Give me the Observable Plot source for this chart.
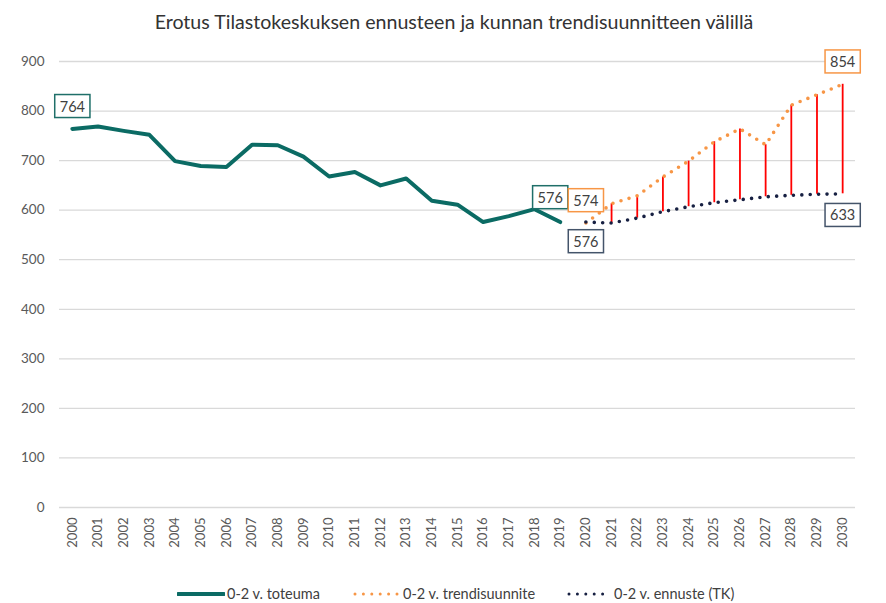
<!DOCTYPE html>
<html>
<head>
<meta charset="utf-8">
<script src="https://cdn.jsdelivr.net/npm/d3@7"></script>
<script src="https://cdn.jsdelivr.net/npm/@observablehq/plot@0.6"></script>
<style>
  body { margin: 0; background: #fff; font-family: Lato, "Open Sans", sans-serif; }
  #title { width: 864px; height: 37px; padding-top: 3px; padding-left: 22px; line-height: 37px; text-align: center;
           font-size: 19.6px; color: #333; }
  #chart svg { display: block; }
  #legend { position: relative; width: 886px; height: 40px; font-size: 14.5px; color: #404040; }
  .item { position: absolute; top: 21px; height: 20px; line-height: 20px; white-space: nowrap; }
  .item svg { position: absolute; top: 6px; }
</style>
</head>
<body>
<div id="title">Erotus Tilastokeskuksen ennusteen ja kunnan trendisuunnitteen välillä</div>
<div id="chart"></div>
<div id="legend"></div>
<script>
// ---- data ----
const years = [2000,2001,2002,2003,2004,2005,2006,2007,2008,2009,2010,2011,2012,2013,2014,2015,
               2016,2017,2018,2019,2020,2021,2022,2023,2024,2025,2026,2027,2028,2029,2030];
const toteumaYears = [2000,2001,2002,2003,2004,2005,2006,2007,2008,2009,2010,2011,2012,2013,2014,2015,2016,2017,2018,2019];
const toteuma = [764,769,760,752,699,689,687,732,731,708,668,677,650,664,619,611,576,588,602,576];
const forecastYears = [2020,2021,2022,2023,2024,2025,2026,2027,2028,2029,2030];
const trendi = [574,613,629,667,699,738,764,732,812,833,854];
const ennuste = [576,574,584,597,607,615,621,627,630,632,633];
const yTicks = [0,100,200,300,400,500,600,700,800,900];
const seriesNames = ["0-2 v. toteuma", "0-2 v. trendisuunnite", "0-2 v. ennuste (TK)"];

const teal = "#0b6b64", orange = "#f79646", navy = "#172042", red = "#ff0000";

const totRows = toteumaYears.map((y, i) => ({year: y, value: toteuma[i]}));
const trendRows = forecastYears.map((y, i) => ({year: y, value: trendi[i]}));
const ennRows = forecastYears.map((y, i) => ({year: y, value: ennuste[i]}));
const gapRows = forecastYears.map((y, i) => ({year: y, lo: ennuste[i], hi: trendi[i]})).filter(d => d.year > forecastYears[0]);

const first = a => [a[0]];
const last = a => [a[a.length - 1]];
const lbl = {fontSize: 14.5, fill: "#404040", fontFamily: "Lato"};

const chart = Plot.plot({
  width: 886,
  height: 523,
  marginTop: 21,
  marginBottom: 56,
  marginLeft: 59,
  marginRight: 31,
  style: {fontFamily: "Lato", fontSize: "13px", color: "#595959", background: "#fff"},
  x: {type: "point", domain: years, padding: 0.5, round: false, label: null},
  y: {domain: [0, 900], label: null},
  marks: [
    Plot.gridY(yTicks, {stroke: "#d9d9d9", strokeOpacity: 1, strokeWidth: 1.3}),
    Plot.axisY(yTicks, {tickSize: 0, tickPadding: 15, fontSize: 13.5, label: null}),
    Plot.axisX(years, {tickSize: 0, tickPadding: 10, tickRotate: -90, fontSize: 13, label: null, tickFormat: d => String(d)}),
    Plot.ruleX(gapRows, {x: "year", y1: "lo", y2: "hi", stroke: red, strokeWidth: 1.8}),
    Plot.line(totRows, {x: "year", y: "value", stroke: teal, strokeWidth: 4, strokeLinejoin: "round"}),
    Plot.line(trendRows, {x: "year", y: "value", stroke: orange, strokeWidth: 3.6, strokeDasharray: "0 8.4", strokeLinecap: "round"}),
    Plot.line(ennRows, {x: "year", y: "value", stroke: navy, strokeWidth: 3.6, strokeDasharray: "0 8.4", strokeLinecap: "round"}),
    Plot.text(first(totRows), {x: "year", y: "value", text: d => String(d.value), dy: -22, className: "box-teal", ...lbl}),
    Plot.text(last(totRows), {x: "year", y: "value", text: d => String(d.value), dx: -10, dy: -24, className: "box-teal", ...lbl}),
    Plot.text(first(trendRows), {x: "year", y: "value", text: d => String(d.value), dy: -22, className: "box-orange", ...lbl}),
    Plot.text(first(ennRows), {x: "year", y: "value", text: d => String(d.value), dy: 20, className: "box-navy", ...lbl}),
    Plot.text(last(trendRows), {x: "year", y: "value", text: d => String(d.value), dy: -22, className: "box-orange", ...lbl}),
    Plot.text(last(ennRows), {x: "year", y: "value", text: d => String(d.value), dy: 22, className: "box-navy", ...lbl})
  ]
});
document.getElementById("chart").appendChild(chart);

// framed data labels
const boxColors = {"box-teal": "#1f6f69", "box-orange": orange, "box-navy": "#44546a"};
for (const [cls, col] of Object.entries(boxColors)) {
  chart.querySelectorAll("g." + cls + " text").forEach(t => {
    const b = t.getBBox();
    const r = document.createElementNS("http://www.w3.org/2000/svg", "rect");
    r.setAttribute("x", b.x - 5);
    r.setAttribute("y", b.y - 3);
    r.setAttribute("width", b.width + 10);
    r.setAttribute("height", b.height + 6);
    r.setAttribute("fill", "#fff");
    r.setAttribute("stroke", col);
    r.setAttribute("stroke-width", 1.5);
    if (t.getAttribute("transform")) r.setAttribute("transform", t.getAttribute("transform"));
    t.parentNode.insertBefore(r, t);
  });
}

// legend
const legend = document.getElementById("legend");
const items = [
  {name: seriesNames[0], color: teal, swLeft: 177, swW: 48, textLeft: 227, dotted: false},
  {name: seriesNames[1], color: orange, swLeft: 353, swW: 46, textLeft: 403, dotted: true},
  {name: seriesNames[2], color: navy, swLeft: 567, swW: 43, textLeft: 614, dotted: true}
];
for (const it of items) {
  const sw = document.createElement("div");
  sw.className = "item";
  sw.style.left = it.swLeft + "px";
  sw.style.width = it.swW + "px";
  sw.innerHTML = it.dotted
    ? `<svg width="${it.swW}" height="8"><line x1="2" x2="${it.swW}" y1="4" y2="4" stroke="${it.color}" stroke-width="3" stroke-dasharray="0 8.4" stroke-linecap="round"/></svg>`
    : `<svg width="${it.swW}" height="8"><line x1="1" x2="${it.swW - 1}" y1="4" y2="4" stroke="${it.color}" stroke-width="4" stroke-linecap="round"/></svg>`;
  legend.appendChild(sw);
  const tx = document.createElement("div");
  tx.className = "item";
  tx.style.left = it.textLeft + "px";
  tx.textContent = it.name;
  legend.appendChild(tx);
}
</script>
</body>
</html>
